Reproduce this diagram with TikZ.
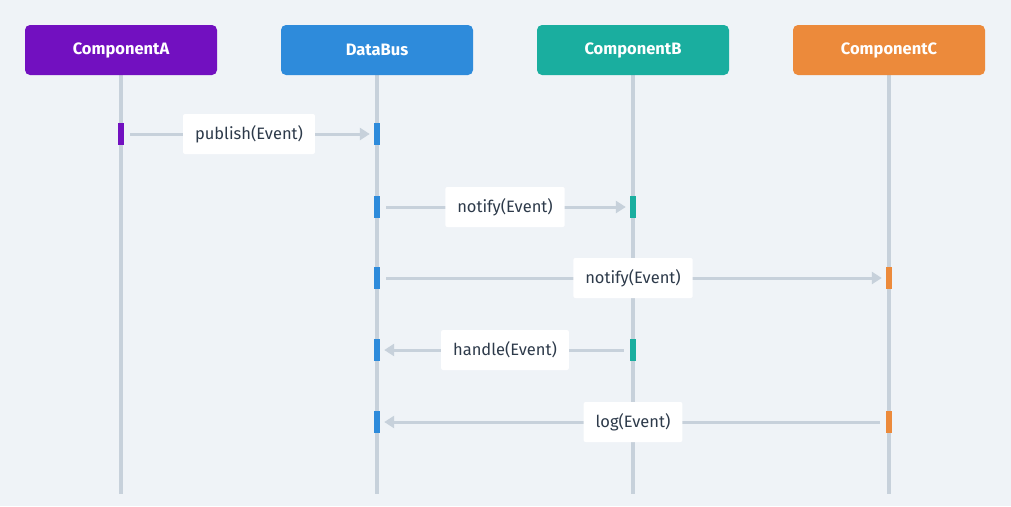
\documentclass[tikz,border=0pt]{standalone}
\usepackage{fontspec}
\setmainfont{Fira Sans}
\usetikzlibrary{arrows.meta}
\definecolor{bgc}{HTML}{EFF3F7}
\definecolor{linec}{HTML}{C7D1DB}
\definecolor{txtc}{HTML}{2D3A4A}
\definecolor{colA}{HTML}{7210C0}
\definecolor{colBus}{HTML}{2E8BDB}
\definecolor{colB}{HTML}{1AAE9F}
\definecolor{colC}{HTML}{EC8A3B}
\tikzset{
  head/.style={rounded corners=5pt, minimum width=192pt, minimum height=50pt,
    text=white, font=\fontsize{16.5}{19}\selectfont\bfseries, inner sep=0pt},
  life/.style={linec, line width=4pt},
  bar/.style={minimum width=6pt, minimum height=22pt, inner sep=0pt},
  msg/.style={linec, line width=3pt, -{Triangle[length=10pt,width=12pt]}},
  lbl/.style={fill=white, rounded corners=2pt, text=txtc, inner xsep=12pt,
    minimum height=40pt, font=\fontsize{16.5}{19}\selectfont}
}
\begin{document}
\begin{tikzpicture}[x=1pt,y=-1pt]
    \fill[bgc] (0,0) rectangle (1011,506);
    \useasboundingbox (0,0) rectangle (1011,506);
    % heads and life lines
    \foreach \n/\t/\c/\x in {A/ComponentA/colA/121, Bus/DataBus/colBus/377,
                             B/ComponentB/colB/633, C/ComponentC/colC/889} {
        \coordinate (end\n) at (\x,494);
        \draw[life] (\x,75) -- (end\n);
        \node[head, fill=\c] (head\n) at (\x,50) {\t};
    }
    % activation bars
    \node[bar, fill=colA]   (a1) at (121,134) {};
    \node[bar, fill=colBus] (d1) at (377,134) {};
    \node[bar, fill=colBus] (d2) at (377,207) {};
    \node[bar, fill=colB]   (b1) at (633,207) {};
    \node[bar, fill=colBus] (d3) at (377,278) {};
    \node[bar, fill=colC]   (c1) at (889,278) {};
    \node[bar, fill=colBus] (d4) at (377,350) {};
    \node[bar, fill=colB]   (b2) at (633,350) {};
    \node[bar, fill=colBus] (d5) at (377,422) {};
    \node[bar, fill=colC]   (c2) at (889,422) {};
    % messages
    \draw[msg, shorten <=6pt, shorten >=4pt] (a1) -- (d1);
    \node[lbl] at (249,134) {publish(Event)};
    \draw[msg, shorten <=6pt, shorten >=4pt] (d2) -- (b1);
    \node[lbl] at (505,207) {notify(Event)};
    \draw[msg, shorten <=6pt, shorten >=4pt] (d3) -- (c1);
    \node[lbl] at (633,278) {notify(Event)};
    \draw[msg, shorten <=6pt, shorten >=4pt] (b2) -- (d4);
    \node[lbl] at (505,350) {handle(Event)};
    \draw[msg, shorten <=6pt, shorten >=4pt] (c2) -- (d5);
    \node[lbl] at (633,422) {log(Event)};
\end{tikzpicture}
\end{document}
